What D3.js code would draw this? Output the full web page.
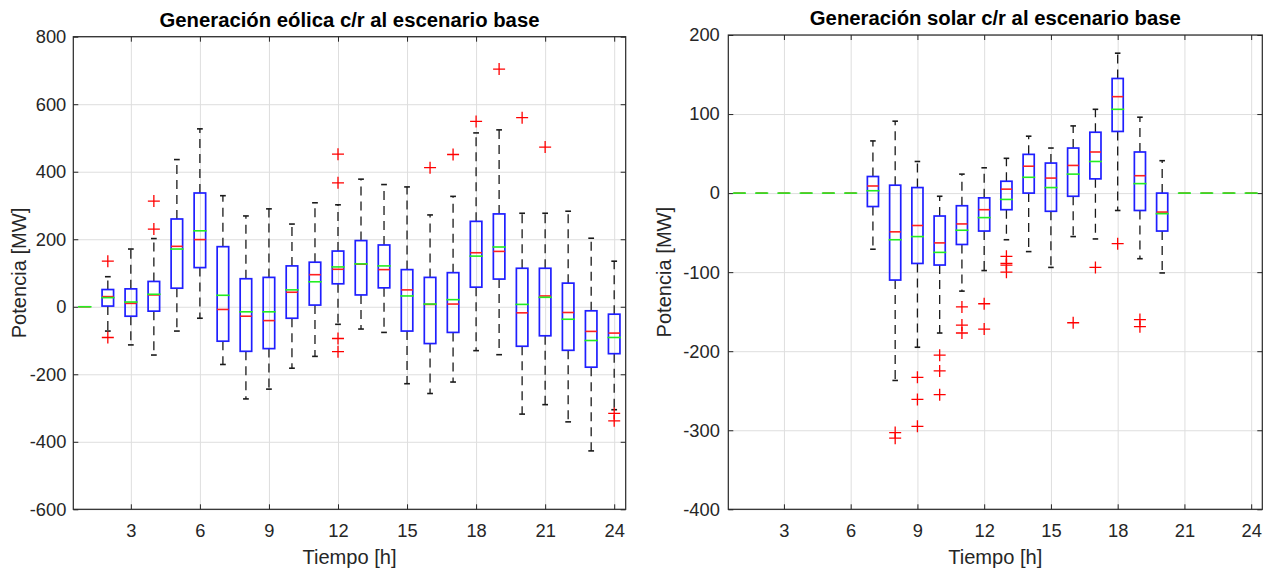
<!DOCTYPE html>
<html>
<head>
<meta charset="utf-8">
<script src="https://cdn.jsdelivr.net/npm/d3@7"></script>
<style>
  body { margin: 0; background: #fff; }
  svg { display: block; font-family: "Liberation Sans", Arial, Helvetica, sans-serif; }
  .grid line { stroke: #dedede; stroke-width: 1; }
  .grid .domain { display: none; }
  .ax .domain { display: none; }
  .ax line { stroke: #262626; stroke-width: 1; }
  .ax text { fill: #262626; font-size: 18.3px; }
</style>
</head>
<body>
<svg id="fig" width="1272" height="569"></svg>
<script>
// Hours of the day (box positions) and shared x tick labels
const hours = d3.range(1, 25);
const hourTicks = [3, 6, 9, 12, 15, 18, 21, 24];

// ---- Wind generation, MW relative to base scenario (hours 1..24) ----
const eolYTicks = [-600, -400, -200, 0, 200, 400, 600, 800];
const eolLo   = [0, -72, -113, -143, -72, -34, -171, -273, -244, -182, -147, -52, -66, -76, -228, -257, -223, -130, -142, -318, -290, -341, -427, -305];
const eolQ1   = [0, 2, -28, -13, 55, 116, -102, -132, -124, -34, 5, 68, 35, 56, -72, -109, -76, 58, 82, -117, -86, -129, -179, -139];
const eolMed  = [0, 30, 10, 35, 179, 199, -8, -28, -41, 43, 95, 111, 126, 110, 50, 7, 8, 160, 164, -18, 32, -17, -73, -78];
const eolMean = [0, 27, 14, 37, 171, 225, 34, -15, -15, 50, 74, 118, 127, 121, 32, 8, 21, 150, 177, 7, 28, -37, -100, -91];
const eolQ3   = [0, 51, 53, 75, 260, 337, 178, 83, 87, 121, 132, 165, 196, 183, 110, 87, 101, 253, 275, 114, 114, 70, -12, -22];
const eolHi   = [0, 89, 171, 202, 436, 527, 329, 269, 290, 245, 308, 302, 378, 362, 355, 272, 327, 515, 524, 277, 277, 283, 203, 135];
const eolOut  = [[], [135, -91], [], [230, 313], [], [], [], [], [], [], [], [367, 452, -94, -133],
                 [], [], [], [412], [451], [549], [704], [560], [473], [], [], [-316, -338]];

// ---- Solar generation, MW relative to base scenario (hours 1..24) ----
const solYTicks = [-400, -300, -200, -100, 0, 100, 200];
const solLo   = [0, 0, 0, 0, 0, 0, -71, -237, -195, -177, -124, -98, -59, -74, -94, -55, -58, -22, -83, -101, 0, 0, 0, 0];
const solQ1   = [0, 0, 0, 0, 0, 0, -17, -110, -89, -91, -65, -48, -21, 0, -23, -4, 18, 78, -22, -48, 0, 0, 0, 0];
const solMed  = [0, 0, 0, 0, 0, 0, 9, -49, -41, -63, -39, -21, 5, 34, 19, 35, 52, 122, 22, -24, 0, 0, 0, 0];
const solMean = [0, 0, 0, 0, 0, 0, 3, -59, -55, -75, -47, -31, -8, 20, 7, 24, 40, 106, 12, -26, 0, 0, 0, 0];
const solQ3   = [0, 0, 0, 0, 0, 0, 21, 10, 7, -29, -16, -6, 15, 49, 38, 57, 77, 145, 52, 0, 0, 0, 0, 0];
const solHi   = [0, 0, 0, 0, 0, 0, 66, 91, 40, -4, 24, 32, 44, 72, 57, 85, 106, 177, 96, 41, 0, 0, 0, 0];
const solOut  = [[], [], [], [], [], [], [], [-303, -310], [-233, -261, -295], [-205, -225, -255],
                 [-144, -167, -177], [-140, -172], [-80, -89, -91, -100], [], [], [-164], [-94], [-64],
                 [-160, -169], [], [], [], [], []];

const svg = d3.select("#fig");

function drawPanel(p) {
  const x = d3.scaleLinear().domain([0.5, 24.5]).range([p.left, p.right]);
  const y = d3.scaleLinear().domain(p.yDomain).range([p.bottom, p.top]);
  const W = p.right - p.left, H = p.bottom - p.top;
  const g = svg.append("g");

  // grid
  g.append("g").attr("class", "grid").attr("transform", `translate(0,${p.bottom})`)
    .call(d3.axisBottom(x).tickValues(hourTicks).tickSize(-H).tickFormat(""));
  g.append("g").attr("class", "grid").attr("transform", `translate(${p.left},0)`)
    .call(d3.axisLeft(y).tickValues(p.yTicks).tickSize(-W).tickFormat(""));

  // axes with inward ticks on all four sides
  g.append("g").attr("class", "ax").attr("transform", `translate(0,${p.bottom})`)
    .call(d3.axisBottom(x).tickValues(hourTicks).tickSizeInner(-5).tickSizeOuter(0)
      .tickPadding(14.4).tickFormat(d => String(d)));
  g.append("g").attr("class", "ax").attr("transform", `translate(0,${p.top})`)
    .call(d3.axisTop(x).tickValues(hourTicks).tickSizeInner(-5).tickSizeOuter(0).tickFormat(""));
  g.append("g").attr("class", "ax").attr("transform", `translate(${p.left},0)`)
    .call(d3.axisLeft(y).tickValues(p.yTicks).tickSizeInner(-5).tickSizeOuter(0)
      .tickPadding(p.yPad).tickFormat(d => String(d)));
  g.append("g").attr("class", "ax").attr("transform", `translate(${p.right},0)`)
    .call(d3.axisRight(y).tickValues(p.yTicks).tickSizeInner(-5).tickSizeOuter(0).tickFormat(""));

  const rows = hours.map((h, i) => ({
    h, lo: p.lo[i], q1: p.q1[i], med: p.med[i], mean: p.mean[i],
    q3: p.q3[i], hi: p.hi[i], out: p.out[i]
  }));
  const boxW = x(1.25) - x(1);     // half-width of a box
  const capW = x(1.125) - x(1);    // half-width of a whisker cap
  const spread = rows.filter(r => r.hi > r.lo);

  const marks = g.append("g");
  // whiskers
  marks.selectAll(".wu").data(spread).join("line")
    .attr("x1", r => x(r.h)).attr("x2", r => x(r.h))
    .attr("y1", r => y(r.q3)).attr("y2", r => y(r.hi))
    .attr("stroke", "#1a1a1a").attr("stroke-width", 1.3).attr("stroke-dasharray", "9,6");
  marks.selectAll(".wl").data(spread).join("line")
    .attr("x1", r => x(r.h)).attr("x2", r => x(r.h))
    .attr("y1", r => y(r.q1)).attr("y2", r => y(r.lo))
    .attr("stroke", "#1a1a1a").attr("stroke-width", 1.3).attr("stroke-dasharray", "9,6");
  // caps
  for (const key of ["hi", "lo"]) {
    marks.selectAll(".cap-" + key).data(spread).join("line")
      .attr("x1", r => x(r.h) - capW).attr("x2", r => x(r.h) + capW)
      .attr("y1", r => y(r[key])).attr("y2", r => y(r[key]))
      .attr("stroke", "#1a1a1a").attr("stroke-width", 1.6);
  }
  // boxes
  marks.selectAll(".box").data(spread).join("rect")
    .attr("x", r => x(r.h) - boxW).attr("width", 2 * boxW)
    .attr("y", r => y(r.q3)).attr("height", r => y(r.q1) - y(r.q3))
    .attr("fill", "none").attr("stroke", "#1f1fff").attr("stroke-width", 1.7);
  // medians (red) and means (green)
  marks.selectAll(".med").data(rows).join("line")
    .attr("x1", r => x(r.h) - boxW).attr("x2", r => x(r.h) + boxW)
    .attr("y1", r => y(r.med)).attr("y2", r => y(r.med))
    .attr("stroke", "#ff2020").attr("stroke-width", 1.6);
  marks.selectAll(".mean").data(rows).join("line")
    .attr("x1", r => x(r.h) - boxW - 1).attr("x2", r => x(r.h) + boxW + 1)
    .attr("y1", r => y(r.mean)).attr("y2", r => y(r.mean))
    .attr("stroke", "#22ee22").attr("stroke-width", 1.6);
  // outliers
  const outs = rows.flatMap(r => r.out.map(v => ({ h: r.h, v })));
  const s = 6;
  marks.selectAll(".out").data(outs).join("path")
    .attr("d", o => `M${x(o.h) - s},${y(o.v)}h${2 * s}M${x(o.h)},${y(o.v) - s}v${2 * s}`)
    .attr("stroke", "#ff0000").attr("stroke-width", 1.3).attr("fill", "none");

  // frame
  g.append("rect").attr("x", p.left).attr("y", p.top).attr("width", W).attr("height", H)
    .attr("fill", "none").attr("stroke", "#262626").attr("stroke-width", 1.2);

  // titles and labels
  const cx = (p.left + p.right) / 2;
  g.append("text").attr("x", cx).attr("y", p.top - 10).attr("text-anchor", "middle")
    .attr("font-weight", "bold").attr("font-size", 20.3).attr("fill", "#000").text(p.title);
  g.append("text").attr("x", cx).attr("y", 564).attr("text-anchor", "middle")
    .attr("font-size", 20.1).attr("fill", "#262626").text("Tiempo [h]");
  g.append("text").attr("transform", `translate(${p.ylabX},${(p.top + p.bottom) / 2}) rotate(-90)`)
    .attr("text-anchor", "middle").attr("font-size", 20.1).attr("fill", "#262626").text("Potencia [MW]");
}

drawPanel({
  left: 73.3, right: 625.7, top: 36.7, bottom: 509.3, yDomain: [-600, 800], yTicks: eolYTicks, yPad: 7,
  ylabX: 26, title: "Generación eólica c/r al escenario base",
  lo: eolLo, q1: eolQ1, med: eolMed, mean: eolMean, q3: eolQ3, hi: eolHi, out: eolOut
});
drawPanel({
  left: 728.3, right: 1262.3, top: 35, bottom: 509.3, yDomain: [-400, 200], yTicks: solYTicks, yPad: 8.5,
  ylabX: 671, title: "Generación solar c/r al escenario base",
  lo: solLo, q1: solQ1, med: solMed, mean: solMean, q3: solQ3, hi: solHi, out: solOut
});
</script>
</body>
</html>
